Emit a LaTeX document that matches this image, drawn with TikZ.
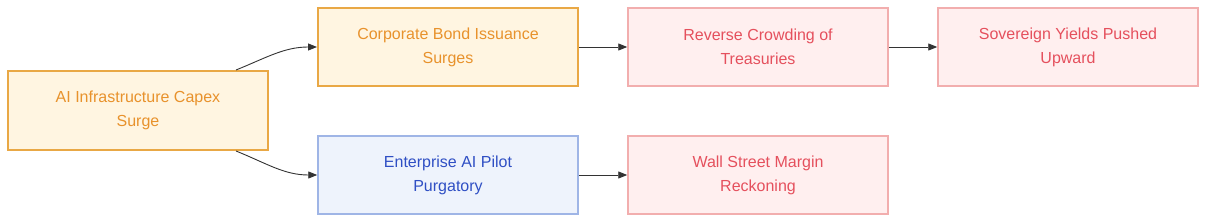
\documentclass[tikz,border=0pt]{standalone}
\usepackage{fontspec}
\setmainfont{Liberation Sans}
\usepackage{tikz}
\usetikzlibrary{arrows.meta, positioning}
\definecolor{capexfill}{HTML}{FFF5E1}
\definecolor{capexline}{HTML}{E9A845}
\definecolor{capextext}{HTML}{E8922C}
\definecolor{riskfill}{HTML}{FFEFEF}
\definecolor{riskline}{HTML}{F2AEAE}
\definecolor{risktext}{HTML}{E5505D}
\definecolor{pilotfill}{HTML}{EEF3FC}
\definecolor{pilotline}{HTML}{9FB5E6}
\definecolor{pilottext}{HTML}{2F4FC4}
\definecolor{arrowcolor}{HTML}{333333}

\begin{document}
\begin{tikzpicture}[x=1pt, y=1pt,
    box/.style={draw, minimum width=260pt, minimum height=78pt, inner sep=0pt,
        align=center, font=\fontsize{16}{24}\selectfont},
    capexbox/.style={box, fill=capexfill, draw=capexline, text=capextext, line width=2pt},
    riskbox/.style={box, fill=riskfill, draw=riskline, text=risktext, line width=1.5pt},
    pilotbox/.style={box, fill=pilotfill, draw=pilotline, text=pilottext, line width=1.5pt},
    arr/.style={draw=arrowcolor, line width=0.9pt, -{Triangle[length=9pt, width=7pt]}}]
\useasboundingbox (0,0) rectangle (1206,-222);

\node[capexbox, minimum height=79pt] (capex) at (138,-110.5) {AI Infrastructure Capex\\Surge};
\node[capexbox] (bond) at (448,-47) {Corporate Bond Issuance\\Surges};
\node[riskbox, right=48.25pt of bond] (crowding) {Reverse Crowding of\\Treasuries};
\node[riskbox, right=48.5pt of crowding] (yields) {Sovereign Yields Pushed\\Upward};
\node[pilotbox] (pilot) at (448,-175) {Enterprise AI Pilot\\Purgatory};
\node[riskbox, right=48.5pt of pilot] (margin) {Wall Street Margin\\Reckoning};

% links
\draw[arr] ([xshift=-33pt]capex.north east) to[out=22, in=180] (bond.west);
\draw[arr] ([xshift=-33pt]capex.south east) to[out=-22, in=180] (pilot.west);
\draw[arr] (bond) -- (crowding);
\draw[arr] (crowding) -- (yields);
\draw[arr] (pilot) -- (margin);
\end{tikzpicture}
\end{document}
